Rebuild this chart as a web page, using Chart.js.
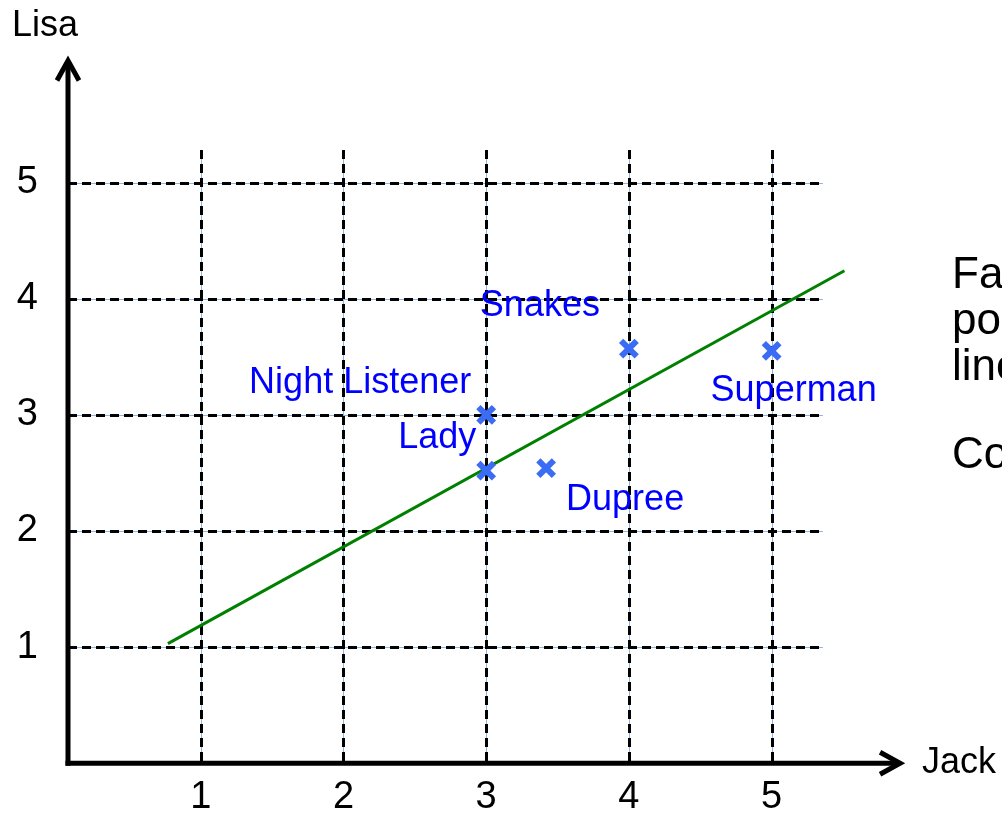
<!DOCTYPE html>
<html><head><meta charset="utf-8">
<script src="https://cdn.jsdelivr.net/npm/chart.js@4.4.1/dist/chart.umd.min.js"></script>
<style>html,body{margin:0;padding:0;background:#fff;overflow:hidden}canvas{display:block}</style>
</head><body>
<canvas id="c" width="1002" height="816" style="width:1002px;height:816px"></canvas>
<script>
// ---- data ----
const movies = ['Night Listener', 'Lady', 'Snakes', 'Dupree', 'Superman'];
const jack = [3, 3, 4, 3.42, 5];
const lisa = [3, 2.52, 3.57, 2.54, 3.55];
const fitX = [0.77, 5.51];
const fitY = [1.03, 4.24];
const xTicks = [1, 2, 3, 4, 5];
const yTicks = [1, 2, 3, 4, 5];
const xTitle = 'Jack';
const yTitle = 'Lisa';
const sideText = ['Fa', 'po', 'line', 'Co'];

// ---- layout / style ----
const FONT = '"Liberation Sans", Arial, sans-serif';
const labelOffsets = [[-126, -32], [-49, -32], [-89, -43], [79, 32], [22, 40]];
const xArrowEnd = 5.9, yArrowEnd = 6.05;

const decor = {
  id: 'decor',
  beforeDatasetsDraw(chart) {
    const {ctx, chartArea: a, scales: {x, y}} = chart;
    ctx.save();
    ctx.strokeStyle = '#8fb4e3';
    ctx.lineWidth = 1;
    ctx.setLineDash([]);
    xTicks.forEach(v => { const px = Math.round(x.getPixelForValue(v)) + 0.5; ctx.beginPath(); ctx.moveTo(px, a.top); ctx.lineTo(px, a.bottom); ctx.stroke(); });
    yTicks.forEach(v => { const py = Math.round(y.getPixelForValue(v)) + 0.5; ctx.beginPath(); ctx.moveTo(a.left, py); ctx.lineTo(a.right, py); ctx.stroke(); });
    ctx.strokeStyle = '#000';
    ctx.lineWidth = 3;
    ctx.setLineDash([9, 5]);
    xTicks.forEach(v => { const px = Math.round(x.getPixelForValue(v)) + 0.5; ctx.beginPath(); ctx.moveTo(px, a.top); ctx.lineTo(px, a.bottom); ctx.stroke(); });
    yTicks.forEach(v => { const py = Math.round(y.getPixelForValue(v)) + 0.5; ctx.beginPath(); ctx.moveTo(a.left, py); ctx.lineTo(a.right, py); ctx.stroke(); });
    ctx.restore();
  },
  afterDatasetsDraw(chart) {
    const {ctx, chartArea: a, scales: {x, y}} = chart;
    ctx.save();
    ctx.setLineDash([]);
    ctx.strokeStyle = '#000';
    ctx.lineWidth = 5;
    ctx.lineJoin = 'miter';
    const ox = a.left, oy = a.bottom;
    const yt = y.getPixelForValue(yArrowEnd);
    const xt = x.getPixelForValue(xArrowEnd);
    ctx.beginPath(); ctx.moveTo(ox, oy + 2.5); ctx.lineTo(ox, yt + 2); ctx.stroke();
    ctx.beginPath(); ctx.moveTo(ox - 2.5, oy); ctx.lineTo(xt - 2, oy); ctx.stroke();
    ctx.beginPath(); ctx.moveTo(ox - 11, yt + 20); ctx.lineTo(ox, yt); ctx.lineTo(ox + 11, yt + 20); ctx.stroke();
    ctx.beginPath(); ctx.moveTo(xt - 20, oy - 11); ctx.lineTo(xt, oy); ctx.lineTo(xt - 20, oy + 11); ctx.stroke();
    ctx.fillStyle = '#000';
    ctx.font = '36px ' + FONT;
    ctx.textBaseline = 'middle';
    ctx.textAlign = 'center';
    ctx.fillText(yTitle, ox - 23, yt - 34);
    ctx.textAlign = 'left';
    ctx.fillText(xTitle, xt + 22, oy);
    ctx.fillStyle = '#0000ff';
    ctx.textAlign = 'center';
    movies.forEach((m, i) => {
      const px = x.getPixelForValue(jack[i]), py = y.getPixelForValue(lisa[i]);
      ctx.fillText(m, px + labelOffsets[i][0], py + labelOffsets[i][1]);
    });
    ctx.fillStyle = '#000';
    ctx.textAlign = 'left';
    ctx.font = '44px ' + FONT;
    const sx = 952, sy = [276, 322, 368, 456];
    sideText.forEach((t, i) => ctx.fillText(t, sx, sy[i]));
    ctx.restore();
  }
};

new Chart(document.getElementById('c'), {
  type: 'scatter',
  data: {
    datasets: [
      {
        type: 'line',
        data: fitX.map((v, i) => ({x: v, y: fitY[i]})),
        borderColor: '#008000',
        borderWidth: 3,
        pointRadius: 0,
        clip: false,
        order: 2
      },
      {
        data: jack.map((v, i) => ({x: v, y: lisa[i]})),
        pointStyle: 'crossRot',
        pointRadius: 11,
        borderWidth: 6,
        borderColor: '#3b6cf4',
        backgroundColor: '#3b6cf4',
        clip: false,
        order: 1
      }
    ]
  },
  options: {
    responsive: false,
    animation: false,
    devicePixelRatio: 1,
    layout: {padding: {top: 150, right: 179, left: 0, bottom: 0}},
    plugins: {legend: {display: false}, tooltip: {enabled: false}},
    scales: {
      x: {
        type: 'linear', min: 0.07, max: 5.36,
        afterBuildTicks: s => { s.ticks = xTicks.map(v => ({value: v})); },
        afterFit: s => { s.height = 48; },
        grid: {display: false, drawTicks: false},
        border: {display: false},
        ticks: {color: '#000', font: {family: FONT, size: 38}, padding: 12, maxRotation: 0}
      },
      y: {
        type: 'linear', min: 0, max: 5.28,
        afterBuildTicks: s => { s.ticks = yTicks.map(v => ({value: v})); },
        afterFit: s => { s.width = 68; },
        grid: {display: false, drawTicks: false},
        border: {display: false},
        ticks: {color: '#000', font: {family: FONT, size: 38}, padding: 30}
      }
    }
  },
  plugins: [decor]
});
</script>
</body></html>
